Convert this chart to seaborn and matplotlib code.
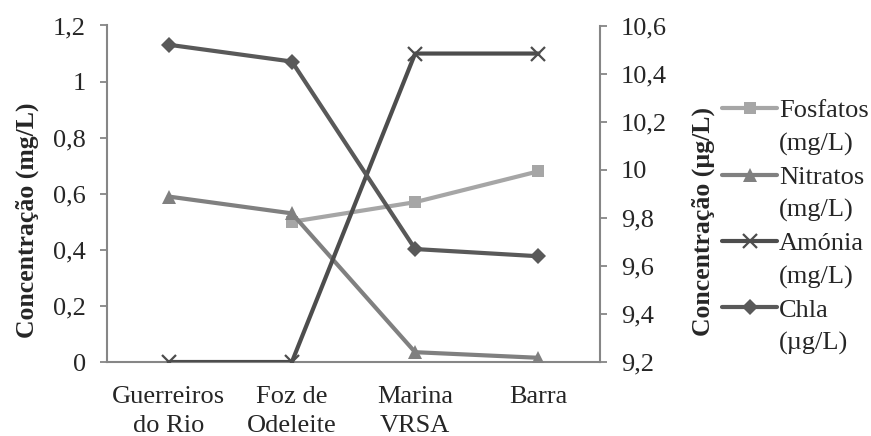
import numpy as np
import pandas as pd
import matplotlib
matplotlib.use("Agg")
import matplotlib.pyplot as plt
import seaborn as sns
from matplotlib.ticker import FuncFormatter, FixedLocator
from matplotlib.lines import Line2D

sites = ["Guerreiros\ndo Rio", "Foz de\nOdeleite", "Marina\nVRSA", "Barra"]
fosfatos = [np.nan, 0.50, 0.57, 0.68]
nitratos = [0.59, 0.53, 0.035, 0.015]
amonia = [0.0, 0.0, 1.10, 1.10]
chla = [10.52, 10.45, 9.67, 9.64]

left_ticks = [0, 0.2, 0.4, 0.6, 0.8, 1.0, 1.2]
right_ticks = [9.2, 9.4, 9.6, 9.8, 10.0, 10.2, 10.4, 10.6]

sns.set_theme(style="white")
plt.rcParams["font.family"] = ["Liberation Serif", "DejaVu Serif"]

FS = 19
W, H = 871, 436

df = pd.DataFrame({
    "pos": np.arange(len(sites)),
    "Fosfatos": fosfatos,
    "Nitratos": nitratos,
    "Amonia": amonia,
    "Chla": chla,
})

fig = plt.figure(figsize=(W / 100, H / 100), dpi=100)
ax = fig.add_axes([107 / W, 1 - 362 / H, (600 - 107) / W, (362 - 25.5) / H])
ax2 = ax.twinx()

lw = 3.0
styles = {
    "Fosfatos": dict(color="#A6A6A6", marker="s", ms=9, mew=0),
    "Nitratos": dict(color="#808080", marker="^", ms=10, mew=0),
    "Amonia": dict(color="#4D4D4D", marker="x", ms=10, mew=1.6),
    "Chla": dict(color="#595959", marker="D", ms=8.5, mew=0),
}

for name in ["Fosfatos", "Nitratos", "Amonia"]:
    st = styles[name]
    sub = df[["pos", name]].dropna()
    sns.lineplot(data=sub, x="pos", y=name, ax=ax, color=st["color"], lw=lw,
                 marker=st["marker"], markersize=st["ms"],
                 markeredgecolor=st["color"], markeredgewidth=st["mew"],
                 legend=False, zorder=3)

st = styles["Chla"]
sns.lineplot(data=df, x="pos", y="Chla", ax=ax2, color=st["color"], lw=lw,
             marker=st["marker"], markersize=st["ms"], markeredgewidth=st["mew"],
             legend=False, zorder=3)

spine_c = "#868686"
ax.set_xlim(-0.5, 3.5)
ax.set_ylim(0, 1.2)
ax2.set_ylim(9.2, 10.6)

ax.xaxis.set_major_locator(FixedLocator([-0.5, 0.5, 1.5, 2.5, 3.5]))
ax.xaxis.set_minor_locator(FixedLocator(np.arange(len(sites))))
ax.set_xticklabels([""] * 5)
ax.set_xticklabels(sites, minor=True, linespacing=1.45)
ax.tick_params(axis="x", which="major", length=5, width=1.3, color=spine_c, direction="out")
ax.tick_params(axis="x", which="minor", length=0, labelsize=FS, pad=17)

ax.set_yticks(left_ticks)
ax2.set_yticks(right_ticks)
fmt = FuncFormatter(lambda v, p: ("%g" % round(v, 2)).replace(".", ","))
ax.yaxis.set_major_formatter(fmt)
ax2.yaxis.set_major_formatter(fmt)
for a in (ax, ax2):
    a.tick_params(axis="y", length=5, width=1.3, color=spine_c, labelsize=FS,
                  pad=10, direction="out")
    for s in a.spines.values():
        s.set_visible(False)
    a.set_xlabel("")
    a.set_ylabel("")
    a.grid(False)

ax.spines["left"].set_visible(True)
ax.spines["bottom"].set_visible(True)
ax2.spines["right"].set_visible(True)
for s in (ax.spines["left"], ax.spines["bottom"], ax2.spines["right"]):
    s.set_color(spine_c)
    s.set_linewidth(1.5)

# axis titles
fig.text(27 / W, 1 - 220 / H, "Concentração (mg/L)", rotation=90, ha="center",
         va="center", fontsize=18.5, fontweight="bold")
fig.text(703 / W, 1 - 221 / H, "Concentração (µg/L)", rotation=90, ha="center",
         va="center", fontsize=18.5, fontweight="bold")

# legend: first line carries the handle, second line has an empty handle
names = ["Fosfatos", "Nitratos", "Amonia", "Chla"]
first = ["Fosfatos", "Nitratos", "Amónia", "Chla"]
second = ["(mg/L)", "(mg/L)", "(mg/L)", "(µg/L)"]
handles, labels = [], []
for name, l1, l2 in zip(names, first, second):
    st = styles[name]
    handles.append(Line2D([], [], color=st["color"], lw=lw, marker=st["marker"],
                          markersize=st["ms"], markeredgecolor=st["color"],
                          markeredgewidth=st["mew"]))
    labels.append(l1)
    handles.append(Line2D([], [], lw=0, marker=None))
    labels.append(l2)

leg = fig.legend(handles, labels, loc="center left",
                 bbox_to_anchor=(722 / W, 1 - 227 / H),
                 frameon=False, fontsize=FS, handlelength=2.1, handletextpad=0.05,
                 labelspacing=0.36, borderaxespad=0, borderpad=0)

fig.savefig("out.png", dpi=100)
